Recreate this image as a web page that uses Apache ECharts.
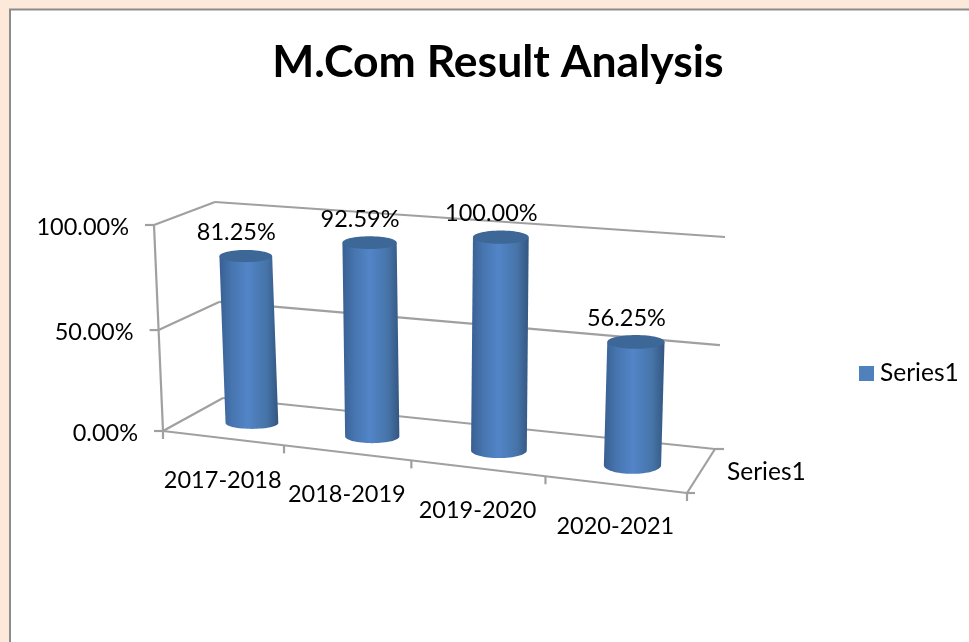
<!DOCTYPE html>
<html>

<head>
    <meta charset="utf-8">
    <script type="text/javascript" src="https://cdn.jsdelivr.net/npm/echarts@6/dist/echarts.min.js"></script>
    <title>M.Com Result Analysis</title>
    <style>
        html, body { margin: 0; padding: 0; background: #fde9d9; }
    </style>
</head>

<body>
    <div id="container" style="width:969px;height:642px;"></div>
    <script type="text/javascript">
    // chart data
    var categories = ['2017-2018', '2018-2019', '2019-2020', '2020-2021'];
    var seriesName = 'Series1';
    var passPercent = [81.25, 92.59, 100, 56.25];
    var yTicks = [0, 50, 100];

    var FONT = 'Lato';
    var LINE = '#a0a0a0';

    // corners of the drawn 3D box, the hidden axes are projected onto it
    var box = {
        backLeftTop: [215, 202], backRightTop: [725, 237],
        backLeftBase: [223, 398], backRightBase: [715, 449],
        frontLeftTop: [154, 225], frontRightTop: [698, 269],
        frontLeftBase: [163, 431], frontRightBase: [687, 493]
    };

    function lerp(a, b, k) {
        return [a[0] + (b[0] - a[0]) * k, a[1] + (b[1] - a[1]) * k];
    }

    // u, v are 0..1 along category and value axis, w is 0 at the back and 1 at the front
    function project(u, v, w) {
        var t = u / (u + 1.11 * (1 - u)); // right side is nearer to the viewer
        var backBase = lerp(box.backLeftBase, box.backRightBase, t);
        var backTop = lerp(box.backLeftTop, box.backRightTop, t);
        var frontBase = lerp(box.frontLeftBase, box.frontRightBase, t);
        var frontTop = lerp(box.frontLeftTop, box.frontRightTop, t);
        return lerp(lerp(backBase, backTop, v), lerp(frontBase, frontTop, v), w);
    }

    // grid pixel -> unit position, so the marks still come from the axis scales
    function toUnit(params, pt) {
        var cs = params.coordSys;
        return [(pt[0] - cs.x) / cs.width, 1 - (pt[1] - cs.y) / cs.height];
    }

    function line(a, b) {
        return {
            type: 'line',
            shape: { x1: a[0], y1: a[1], x2: b[0], y2: b[1] },
            style: { stroke: LINE, lineWidth: 2.2, fill: null }
        };
    }

    function label(text, x, y, align, size) {
        return {
            type: 'text',
            x: x,
            y: y,
            style: {
                text: text,
                fill: '#000',
                font: (size || 23.5) + 'px ' + FONT,
                align: align,
                verticalAlign: 'middle'
            }
        };
    }

    // value axis: stub, side wall line, back wall line and the tick label
    function renderYTick(params, api) {
        var val = api.value(1);
        var v = toUnit(params, api.coord([0, val]))[1];
        v = v - 0.04 * v * (1 - v); // middle gridline sits a little low in the picture
        var front = project(0, v, 1);
        var corner = project(0, v, 0);
        var right = project(1, v, 0);
        return {
            type: 'group',
            children: [
                line([front[0] - 9, front[1]], front),
                line(front, corner),
                line(corner, right),
                label(val.toFixed(2) + '%', front[0] - 25, front[1] + 2.5, 'right')
            ]
        };
    }

    // category axis: front edge ticks and names
    function renderXTick(params, api) {
        var i = api.value(0);
        var c = toUnit(params, api.coord([i, 0]));
        var halfBand = api.size([1, 0])[0] / 2 / params.coordSys.width;
        var p = project(c[0], 0, 1);
        var tick = project(c[0] + halfBand, 0, 1);
        var children = [
            line(tick, [tick[0], tick[1] + 8]),
            label(categories[i], p[0], p[1] + 42, 'center')
        ];
        if (i === 0) {
            var start = project(0, 0, 1);
            children.push(line(start, [start[0], start[1] + 8]));
        }
        return { type: 'group', children: children };
    }

    // floor frame and the depth axis with its single name
    function renderFloor() {
        var fl = project(0, 0, 1);
        var fr = project(1, 0, 1);
        var br = project(1, 0, 0);
        var top = project(0, 1, 1);
        var mid = project(1, 0, 0.5);
        return {
            type: 'group',
            children: [
                line(top, fl),
                line(fl, fr),
                line(fr, br),
                line(fr, [fr[0] + 8, fr[1]]),
                line(br, [br[0] + 9, br[1]]),
                label(seriesName, mid[0] + 26, mid[1] + 1, 'left', 24.5)
            ]
        };
    }

    // one cylinder: body with rounded bottom, darker top cap, value label
    function renderCylinder(params, api) {
        var val = api.value(1);
        var c = toUnit(params, api.coord([api.value(0), val]));
        var base = project(c[0], 0, 0.5);
        var top = project(c[0], c[1], 0.5);
        var rx = 26 + 3 * c[0];
        var ry = 6 + c[0];
        var ryBase = 5.5 + 3.5 * c[0]; // bottom curve opens up to the right
        var baseX = base[0] + 1;
        var baseY = base[1] + 2;
        var pts = [[top[0] - rx, top[1]], [top[0] + rx, top[1]]];
        for (var a = 0; a <= 32; a++) {
            var ang = a / 32 * Math.PI;
            pts.push([baseX + rx * Math.cos(ang), baseY + ryBase * Math.sin(ang)]);
        }
        return {
            type: 'group',
            children: [{
                type: 'polygon',
                shape: { points: pts },
                style: {
                    fill: new echarts.graphic.LinearGradient(0, 0, 1, 0, [
                        { offset: 0, color: '#395f92' },
                        { offset: 0.2, color: '#4674ae' },
                        { offset: 0.48, color: '#5285c8' },
                        { offset: 0.8, color: '#4674a8' },
                        { offset: 1, color: '#345681' }
                    ])
                }
            }, {
                type: 'ellipse',
                shape: { cx: top[0], cy: top[1], rx: rx, ry: ry },
                style: { fill: '#3c6797' }
            },
            label(val.toFixed(2) + '%', top[0] - 9.5, top[1] - 23.5, 'center')]
        };
    }

    var myChart = echarts.init(document.getElementById('container'));

    var option = {
        animation: false,
        color: ['#4f81bd'],
        backgroundColor: '#fde9d9',
        title: {
            text: 'M.Com Result Analysis',
            left: 493,
            top: 35,
            textAlign: 'center',
            textStyle: { fontFamily: FONT, fontSize: 44.5, fontWeight: 'bold', color: '#000' }
        },
        legend: {
            data: [{ name: seriesName, icon: 'rect' }],
            left: 854,
            top: 356,
            itemWidth: 15,
            itemHeight: 15,
            itemGap: 0,
            textStyle: { fontFamily: FONT, fontSize: 24.5, color: '#000', padding: [0, 0, 0, 1] }
        },
        graphic: [{
            type: 'rect',
            z: -10,
            shape: { x: 10, y: 9.5, width: 1000, height: 700 },
            style: { fill: '#fff', stroke: '#8c8c8c', lineWidth: 2 }
        }],
        // axes stay hidden, their scales feed the projection above
        grid: { left: 100, right: 100, top: 100, bottom: 100 },
        xAxis: { type: 'category', data: categories, show: false },
        yAxis: { type: 'value', min: 0, max: 100, interval: 50, show: false },
        series: [{
            name: 'yTicks',
            type: 'custom',
            z: 1,
            silent: true,
            data: yTicks.map(function (v) { return [categories[0], v]; }),
            renderItem: renderYTick
        }, {
            name: 'xTicks',
            type: 'custom',
            z: 1,
            silent: true,
            data: categories.map(function (c) { return [c, 0]; }),
            renderItem: renderXTick
        }, {
            name: 'floor',
            type: 'custom',
            z: 1,
            silent: true,
            data: [[categories[0], 0]],
            renderItem: renderFloor
        }, {
            name: seriesName,
            type: 'custom',
            z: 2,
            data: categories.map(function (c, i) { return [c, passPercent[i]]; }),
            renderItem: renderCylinder
        }]
    };

    myChart.setOption(option);
    </script>
</body>

</html>
